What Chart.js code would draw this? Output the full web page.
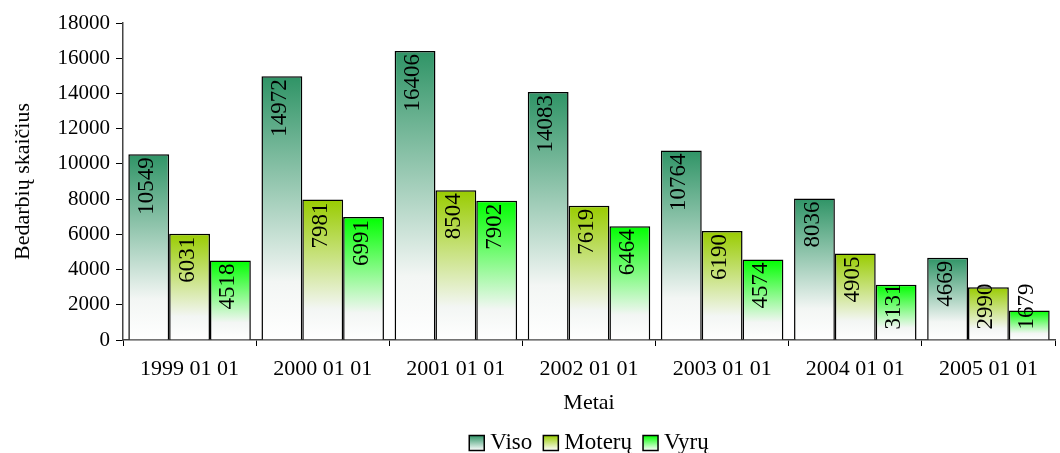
<!DOCTYPE html>
<html>
<head>
<meta charset="utf-8">
<script src="https://cdn.jsdelivr.net/npm/chart.js@4.4.1/dist/chart.umd.min.js"></script>
<style>
  html, body { margin: 0; padding: 0; background: #ffffff; }
  #wrap { width: 1060px; height: 453px; position: relative; }
</style>
</head>
<body>
<div id="wrap"><canvas id="c" width="1060" height="453"></canvas></div>
<script>
const categories = ['1999 01 01', '2000 01 01', '2001 01 01', '2002 01 01', '2003 01 01', '2004 01 01', '2005 01 01'];
const seriesNames = ['Viso', 'Moterų', 'Vyrų'];
const visoValues = [10549, 14972, 16406, 14083, 10764, 8036, 4669];
const moteruValues = [6031, 7981, 8504, 7619, 6190, 4905, 2990];
const vyruValues = [4518, 6991, 7902, 6464, 4574, 3131, 1679];
const yTicks = [0, 2000, 4000, 6000, 8000, 10000, 12000, 14000, 16000, 18000];

const topColors = ['#2f9466', '#99cc00', '#00ff00'];
const FONT = '"Liberation Serif", "Times New Roman", serif';

// Vertical fade from the series colour at the bar top down to white at the axis
function fadeFill(color) {
  return (ctx) => {
    const chart = ctx.chart;
    if (!chart.chartArea || ctx.type !== 'data') return color;
    const y = chart.scales.y;
    const top = y.getPixelForValue(ctx.raw);
    const bottom = y.getPixelForValue(0);
    const g = chart.ctx.createLinearGradient(0, top, 0, bottom);
    g.addColorStop(0, color);
    g.addColorStop(0.78, '#f3f6f4');
    g.addColorStop(1, '#ffffff');
    return g;
  };
}

// Rotated value labels inside the top of each bar
const valueLabels = {
  id: 'valueLabels',
  afterDatasetsDraw(chart) {
    const c = chart.ctx;
    c.save();
    c.font = '23px ' + FONT;
    c.fillStyle = '#000';
    chart.data.datasets.forEach((ds, di) => {
      const meta = chart.getDatasetMeta(di);
      meta.data.forEach((el, i) => {
        const txt = String(ds.data[i]);
        const w = c.measureText(txt).width;
        let bottom = el.y + 3 + w;
        if (bottom > el.base - 10) bottom = el.base - 10;
        c.save();
        c.translate(el.x - 2, bottom);
        c.rotate(-Math.PI / 2);
        c.textAlign = 'left';
        c.textBaseline = 'middle';
        c.fillText(txt, 0, 0);
        c.restore();
      });
    });
    c.restore();
  }
};

// Legend row centred under the plot area
const bottomLegend = {
  id: 'bottomLegend',
  afterDraw(chart) {
    const c = chart.ctx;
    const area = chart.chartArea;
    c.save();
    c.font = '23px ' + FONT;
    const box = 15, gap = 6, spacing = 11;
    const items = chart.data.datasets.map((ds, i) => ({ label: ds.label, color: topColors[i], w: c.measureText(ds.label).width }));
    const total = items.reduce((s, it) => s + box + gap + it.w, 0) + spacing * (items.length - 1);
    let x = (area.left + area.right) / 2 - total / 2;
    const yMid = 443;
    items.forEach(it => {
      const g = c.createLinearGradient(0, yMid - box / 2, 0, yMid + box / 2);
      g.addColorStop(0, it.color);
      g.addColorStop(1, '#ffffff');
      c.fillStyle = g;
      c.fillRect(x, yMid - box / 2, box, box);
      c.strokeStyle = '#000';
      c.lineWidth = 1.5;
      c.strokeRect(x, yMid - box / 2, box, box);
      c.fillStyle = '#000';
      c.textAlign = 'left';
      c.textBaseline = 'middle';
      c.fillText(it.label, x + box + gap, yMid);
      x += box + gap + it.w + spacing;
    });
    c.restore();
  }
};

const values = [visoValues, moteruValues, vyruValues];

new Chart(document.getElementById('c'), {
  type: 'bar',
  data: {
    labels: categories,
    datasets: seriesNames.map((name, i) => ({
      label: name,
      data: values[i],
      backgroundColor: fadeFill(topColors[i]),
      borderColor: '#000',
      borderWidth: 1.5,
      borderSkipped: 'bottom',
      categoryPercentage: 0.92,
      barPercentage: 1.0
    }))
  },
  options: {
    responsive: false,
    animation: false,
    devicePixelRatio: 1,
    layout: { padding: { left: 0, right: 5, top: 23, bottom: 33 } },
    plugins: { legend: { display: false }, tooltip: { enabled: false } },
    scales: {
      x: {
        offset: true,
        grid: { display: true, drawOnChartArea: false, offset: true, tickLength: 6, color: '#000' },
        border: { color: '#444', width: 1.5 },
        ticks: { color: '#000', font: { family: FONT, size: 22 }, padding: 10, maxRotation: 0 },
        title: { display: true, text: 'Metai', color: '#000', font: { family: FONT, size: 22 }, padding: { top: 10 } },
        afterFit(s) { s.height = 80; }
      },
      y: {
        min: 0, max: 18000,
        afterBuildTicks(s) { s.ticks = yTicks.map(v => ({ value: v })); },
        grid: { display: true, drawOnChartArea: false, tickLength: 7, color: '#000' },
        border: { color: '#444', width: 1.5 },
        ticks: { color: '#000', font: { family: FONT, size: 21 }, padding: 6, callback: (v) => String(v) },
        title: { display: true, text: 'Bedarbių skaičius', color: '#000', font: { family: FONT, size: 22 }, padding: { top: 10, bottom: 0 } },
        afterFit(s) { s.width = 123; }
      }
    }
  },
  plugins: [valueLabels, bottomLegend]
});
</script>
</body>
</html>
